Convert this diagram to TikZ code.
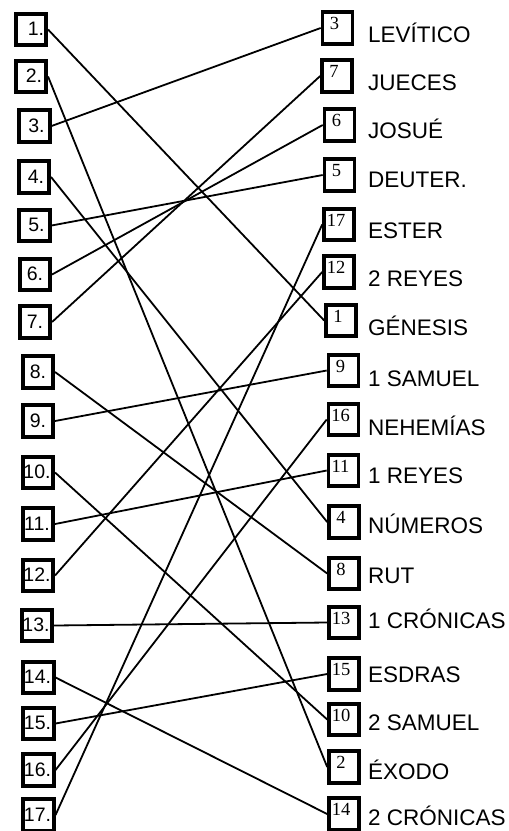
\documentclass[tikz,border=0pt]{standalone}
\usepackage{fontspec}
\setmainfont{Liberation Sans}
\newfontfamily\numserif{Liberation Serif}
\begin{document}
\begin{tikzpicture}[x=1pt,y=-1pt,
  lbox/.style={draw=black, line width=3.6pt, minimum width=30.5pt, minimum height=31.5pt, inner sep=0pt},
  rbox/.style={draw=black, line width=3.6pt, minimum width=30pt, minimum height=31.5pt, inner sep=0pt},
  ltext/.style={anchor=base, inner sep=0pt, font=\fontsize{19.5}{22}\selectfont},
  rnum/.style={anchor=base, inner sep=0pt, font=\numserif\fontsize{18.5}{20}\selectfont},
  rtext/.style={anchor=base west, inner sep=0pt, font=\fontsize{22.5}{26}\selectfont},
  link/.style={line width=1.8pt}]
\useasboundingbox (0,0) rectangle (509,831);
% left boxes
\foreach \n/\x/\y/\dx in {1/31/29.5/5, 2/31/76.5/3, 3/34.5/126/2, 4/34/177/2, 5/34.5/225.5/2,
  6/35/274.5/0, 7/35/322/0, 8/38/372/0, 9/38/421/0, 10/38/472.5/-1, 11/38/524/-1,
  12/38/575.5/-1, 13/37/625.5/-1, 14/38.5/677.5/-1, 15/38.5/723.5/-1, 16/38.5/770/-1, 17/38.5/815/-1} {
  \node[lbox] (L\n) at (\x,\y) {};
  \node[ltext] (LT\n) at (\x+\dx,\y+6) {\n.};
}
% right boxes
\foreach \n/\x/\y/\b/\lab in {3/337.5/28/42/LEVÍTICO, 7/337/76/90/JUECES, 6/339.5/125/138/JOSUÉ,
  5/339.5/175/187/DEUTER., 17/339/224.5/238/ESTER, 12/339/272/286/2 REYES, 1/341/320.5/335/GÉNESIS,
  9/343.5/370.5/386/1 SAMUEL, 16/343.5/419.5/435/NEHEMÍAS, 11/343.5/470.5/483/1 REYES,
  4/344/522/533/NÚMEROS, 8/344/573.5/583/RUT, 13/344/622.5/628/1 CRÓNICAS, 15/344/674/682/ESDRAS,
  10/344/719.5/730/2 SAMUEL, 2/344/767/779/ÉXODO, 14/344/814/825/2 CRÓNICAS} {
  \node[rbox] (R\n) at (\x,\y) {};
  \node[rnum] (RN\n) at (\x-3,\y+1.5) {\n};
  \node[rtext] (RT\n) at (368,\b) {\lab};
}
% connectors
\foreach \n in {1,...,17} {
  \draw[link] (L\n.east) -- (R\n.west);
}
\end{tikzpicture}
\end{document}
